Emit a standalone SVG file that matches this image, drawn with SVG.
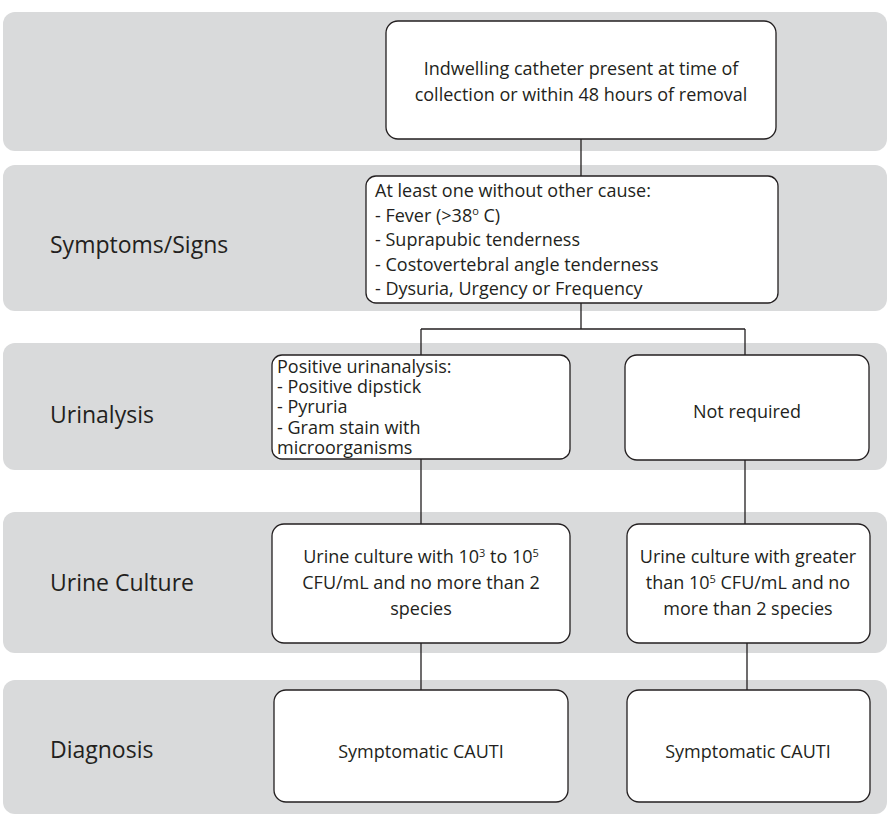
<svg xmlns="http://www.w3.org/2000/svg" width="889" height="819" viewBox="0 0 889 819">
<style>
.band{fill:#d9dadb;stroke:none}
.box{fill:#ffffff;stroke:#231f20;stroke-width:1.3}
.t{font-family:"Open Sans","Liberation Sans",Arial,sans-serif;font-size:18px;fill:#231f20}
.c{text-anchor:middle}
.lab{font-family:"Open Sans","Liberation Sans",Arial,sans-serif;font-size:23px;fill:#231f20}
.sup{font-size:11px}
.conn{stroke:#231f20;stroke-width:1.3;fill:none}
</style>
<rect width="889" height="819" fill="#ffffff"/>
<g id="bands">
<rect class="band" x="3" y="12" width="884" height="139" rx="12"/>
<rect class="band" x="3" y="165" width="884" height="146" rx="12"/>
<rect class="band" x="3" y="343" width="884" height="127" rx="12"/>
<rect class="band" x="3" y="512" width="884" height="141" rx="12"/>
<rect class="band" x="3" y="680" width="884" height="134" rx="12"/>
</g>
<g id="labels">
<text class="lab" x="50" y="253">Symptoms/Signs</text>
<text class="lab" x="50" y="423">Urinalysis</text>
<text class="lab" x="50" y="591">Urine Culture</text>
<text class="lab" x="50" y="758">Diagnosis</text>
</g>
<g id="connectors">
<path class="conn" d="M581 139V176"/>
<path class="conn" d="M581 303V329M421 329H745M421 329V355M745 329V355"/>
<path class="conn" d="M421 459V524M745 460V524"/>
<path class="conn" d="M421 643V690M747 643V690"/>
</g>
<g id="n1">
<rect class="box" x="386" y="21" width="390" height="118" rx="12"/>
<text class="t c"><tspan x="581" y="75">Indwelling catheter present at time of</tspan><tspan x="581" y="101">collection or within 48 hours of removal</tspan></text>
</g>
<g id="n2">
<rect class="box" x="366" y="176" width="412" height="127" rx="10"/>
<text class="t"><tspan x="375" y="197">At least one without other cause:</tspan><tspan x="375" y="221.5">- Fever (&gt;38</tspan><tspan class="sup" dy="-6.5">o</tspan><tspan dy="6.5"> C)</tspan><tspan x="375" y="246">- Suprapubic tenderness</tspan><tspan x="375" y="270.5">- Costovertebral angle tenderness</tspan><tspan x="375" y="295">- Dysuria, Urgency or Frequency</tspan></text>
</g>
<g id="n3a">
<rect class="box" x="272" y="355" width="298" height="104" rx="10"/>
<text class="t"><tspan x="277" y="373">Positive urinanalysis:</tspan><tspan x="277" y="393.2">- Positive dipstick</tspan><tspan x="277" y="413.4">- Pyruria</tspan><tspan x="277" y="433.6">- Gram stain with</tspan><tspan x="277" y="453.8">microorganisms</tspan></text>
</g>
<g id="n3b">
<rect class="box" x="625" y="355" width="244" height="105" rx="12"/>
<text class="t c" x="747" y="418">Not required</text>
</g>
<g id="n4a">
<rect class="box" x="272" y="524" width="298" height="119" rx="12"/>
<text class="t c"><tspan x="421" y="563">Urine culture with 10</tspan><tspan class="sup" dy="-6.5">3</tspan><tspan dy="6.5"> to 10</tspan><tspan class="sup" dy="-6.5">5</tspan><tspan x="421" y="589">CFU/mL and no more than 2</tspan><tspan x="421" y="615">species</tspan></text>
</g>
<g id="n4b">
<rect class="box" x="627" y="524" width="243" height="119" rx="12"/>
<text class="t c"><tspan x="748" y="563">Urine culture with greater</tspan><tspan x="748" y="589">than 10</tspan><tspan class="sup" dy="-6.5">5</tspan><tspan dy="6.5"> CFU/mL and no</tspan><tspan x="748" y="615">more than 2 species</tspan></text>
</g>
<g id="n5a">
<rect class="box" x="274" y="690" width="294" height="112" rx="12"/>
<text class="t c" x="421" y="758">Symptomatic CAUTI</text>
</g>
<g id="n5b">
<rect class="box" x="627" y="690" width="243" height="112" rx="12"/>
<text class="t c" x="748" y="758">Symptomatic CAUTI</text>
</g>
</svg>
